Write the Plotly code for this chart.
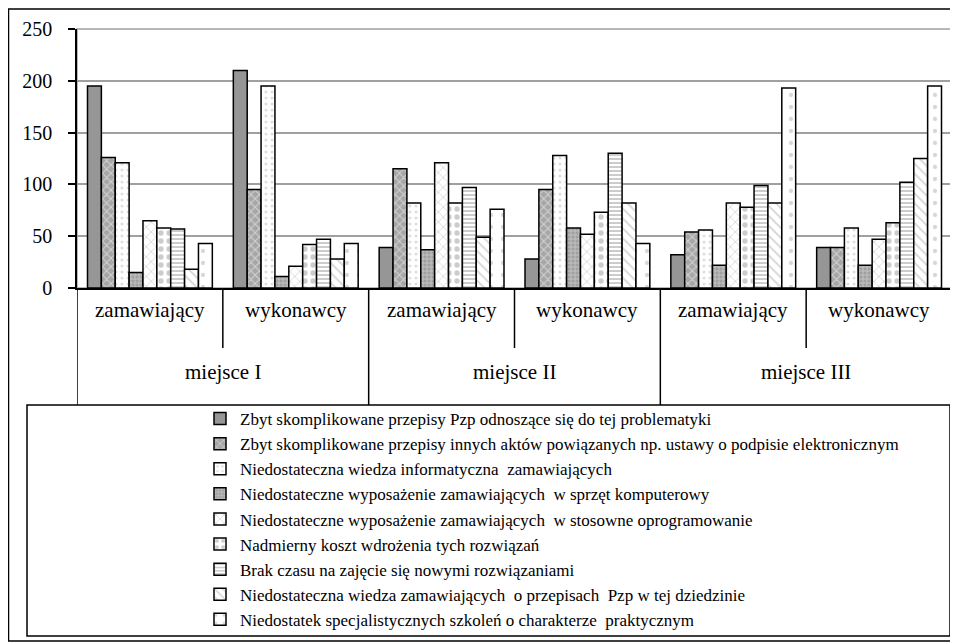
import plotly.graph_objects as go

# ---- data ----
places = ["miejsce I", "miejsce II", "miejsce III"]
roles = ["zamawiający", "wykonawcy"]
series_names = [
    "Zbyt skomplikowane przepisy Pzp odnoszące się do tej problematyki",
    "Zbyt skomplikowane przepisy innych aktów powiązanych np. ustawy o podpisie elektronicznym",
    "Niedostateczna wiedza informatyczna  zamawiających",
    "Niedostateczne wyposażenie zamawiających  w sprzęt komputerowy",
    "Niedostateczne wyposażenie zamawiających  w stosowne oprogramowanie",
    "Nadmierny koszt wdrożenia tych rozwiązań",
    "Brak czasu na zajęcie się nowymi rozwiązaniami",
    "Niedostateczna wiedza zamawiających  o przepisach  Pzp w tej dziedzinie",
    "Niedostatek specjalistycznych szkoleń o charakterze  praktycznym",
]
s1 = [195, 210, 39, 28, 32, 39]
s2 = [126, 95, 115, 95, 54, 39]
s3 = [121, 195, 82, 128, 56, 58]
s4 = [15, 11, 37, 58, 22, 22]
s5 = [65, 21, 121, 52, 82, 47]
s6 = [58, 42, 82, 73, 78, 63]
s7 = [57, 47, 97, 130, 99, 102]
s8 = [18, 28, 49, 82, 82, 125]
s9 = [43, 43, 76, 43, 193, 195]
series_values = [s1, s2, s3, s4, s5, s6, s7, s8, s9]
y_ticks = [0, 50, 100, 150, 200, 250]

# ---- styles ----
FONT = "Liberation Serif, Times New Roman, serif"
styles = [
    dict(color="#969696"),
    dict(color="#a6a6a6", pattern=dict(shape="x", bgcolor="#a6a6a6", fgcolor="white", size=6, solidity=0.3)),
    dict(color="white", pattern=dict(shape=".", bgcolor="white", fgcolor="#bdbdbd", size=6, solidity=0.22)),
    dict(color="#a0a0a0", pattern=dict(shape="+", bgcolor="#a0a0a0", fgcolor="white", size=4, solidity=0.3)),
    dict(color="white", pattern=dict(shape="x", bgcolor="white", fgcolor="#a0a0a0", size=7, solidity=0.2)),
    dict(color="white", pattern=dict(shape=".", bgcolor="white", fgcolor="#999999", size=8, solidity=0.35)),
    dict(color="white", pattern=dict(shape="-", bgcolor="white", fgcolor="#999999", size=4, solidity=0.5)),
    dict(color="white", pattern=dict(shape="\\", bgcolor="white", fgcolor="#aaaaaa", size=7, solidity=0.25)),
    dict(color="white", pattern=dict(shape=".", bgcolor="white", fgcolor="#b0b0b0", size=12, solidity=0.1)),
]

# page has an 8px body margin: figure pixel = screen pixel - OFF
OFF = 8
W, H = 950, 635
L, R, T, B = 69, 6, 21, 355
PW = W - L - R
PH = H - T - B


def px_x(px):
    """screen x pixel -> paper x"""
    return (px - OFF - L) / PW


def px_y(py):
    """screen y pixel -> paper y"""
    return (H - B - (py - OFF)) / PH


n_cat = len(places) * len(roles)
xs = list(range(n_cat))

fig = go.Figure()
for i, (name, vals, st) in enumerate(zip(series_names, series_values, styles)):
    marker = dict(color=st["color"], line=dict(color="black", width=1.5))
    if "pattern" in st:
        marker["pattern"] = st["pattern"]
    fig.add_trace(go.Bar(x=xs, y=vals, name=name, marker=marker, legendgroup=f"g{i}"))

shapes = []
# plot area border (gray)
shapes.append(dict(type="rect", xref="paper", yref="paper", x0=0, x1=1, y0=0, y1=1,
                   line=dict(color="#a0a0a0", width=1.5), layer="below"))
# category table dividers
for k in range(len(places) + 1):
    xv = -0.5 + k * len(roles)
    shapes.append(dict(type="line", xref="x", yref="paper", x0=xv, x1=xv,
                       y0=0, y1=px_y(405), line=dict(color="black", width=1.5)))
for k in range(len(places)):
    xv = -0.5 + k * len(roles) + 1
    shapes.append(dict(type="line", xref="x", yref="paper", x0=xv, x1=xv,
                       y0=0, y1=px_y(348), line=dict(color="black", width=1.5)))
# legend box
shapes.append(dict(type="rect", xref="paper", yref="paper", x0=px_x(27), x1=px_x(950),
                   y0=px_y(636), y1=px_y(405), line=dict(color="black", width=1.5)))
# outer border
shapes.append(dict(type="rect", xref="paper", yref="paper", x0=px_x(8.5), x1=px_x(957),
                   y0=px_y(641), y1=px_y(9), line=dict(color="black", width=1.5)))

annotations = []
for pi, place in enumerate(places):
    for ri, role in enumerate(roles):
        annotations.append(dict(x=pi * len(roles) + ri, y=px_y(324), xref="x", yref="paper",
                                text=role, showarrow=False,
                                font=dict(family=FONT, size=21, color="black")))
    annotations.append(dict(x=pi * len(roles) + 0.5, y=px_y(386), xref="x", yref="paper",
                            text=place, showarrow=False,
                            font=dict(family=FONT, size=21, color="black")))

fig.update_layout(
    width=W, height=H,
    margin=dict(l=L, r=R, t=T, b=B, autoexpand=False),
    paper_bgcolor="white", plot_bgcolor="white",
    barmode="group", bargap=0.144, bargroupgap=0,
    font=dict(family=FONT, color="black"),
    xaxis=dict(range=[-0.5, n_cat - 0.5], showticklabels=False, ticks="",
               showgrid=False, zeroline=False, showline=True, linecolor="black", linewidth=1.5),
    yaxis=dict(range=[0, 250], tickvals=y_ticks, ticks="outside", ticklen=7, tickcolor="black",
               tickwidth=1.5, showline=True, linecolor="black", linewidth=1.5,
               gridcolor="#a0a0a0", gridwidth=1.5, zeroline=False,
               tickfont=dict(family=FONT, size=20, color="black"), ticklabelstandoff=12),
    legend=dict(x=px_x(200), y=px_y(401), xanchor="left", yanchor="top",
                bgcolor="rgba(0,0,0,0)", font=dict(family=FONT, size=17, color="black"),
                tracegroupgap=1.4, traceorder="normal"),
    shapes=shapes,
    annotations=annotations,
)

fig.write_html("out.html")
